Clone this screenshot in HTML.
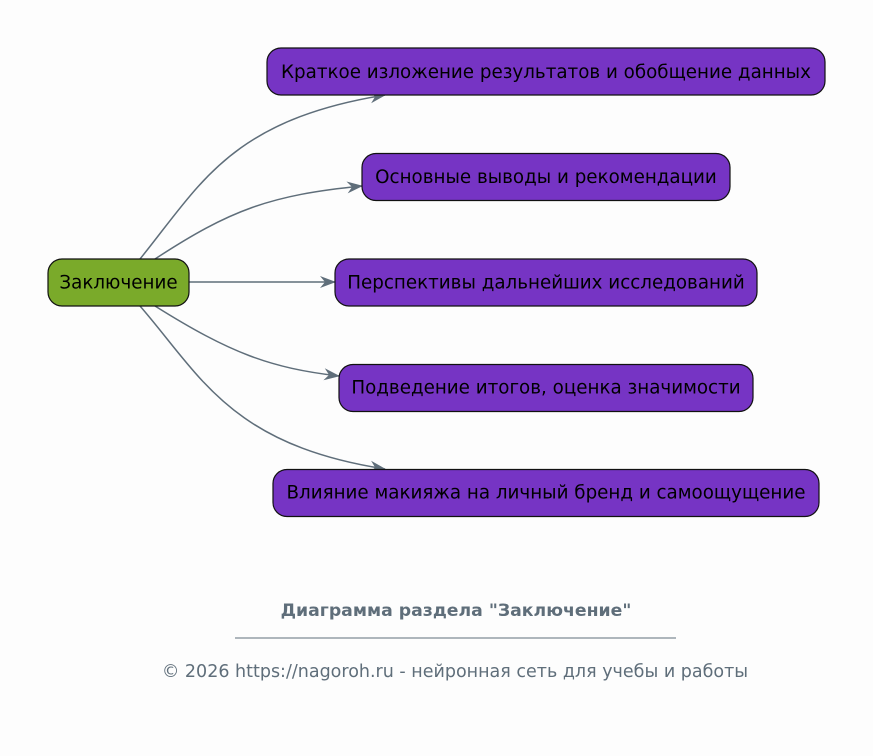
<!DOCTYPE html>
<html><head><meta charset="utf-8"><style>
html,body{margin:0;padding:0;background:#fdfdfd;}
svg{display:block;font-family:"DejaVu Sans","Liberation Sans",sans-serif;}
</style></head><body>
<svg width="873" height="756" viewBox="0 0 873 756" xmlns="http://www.w3.org/2000/svg">
<rect width="873" height="756" fill="#fdfdfd"/>
<defs>
<marker id="a" markerWidth="20" markerHeight="14" refX="17" refY="7" orient="auto" markerUnits="userSpaceOnUse">
<path d="M2,1 L18,7 L2,13 L7,7 Z" fill="#5f6e7a"/>
</marker>
</defs>
<g fill="none" stroke="#5f6e7a" stroke-width="1.5" marker-end="url(#a)">
<path d="M140,259 C200,185 230,120 385,95"/>
<path d="M155,259 C230,210 270,195 362,186"/>
<path d="M189,282 L335,282"/>
<path d="M155,306 C230,353 270,368 339,376"/>
<path d="M140,306 C200,375 230,445 385,469"/>
</g>
<g stroke="#111" stroke-width="1.2">
<rect x="48" y="259" width="141" height="47" rx="14" fill="#7aaa2a"/>
<rect x="267" y="48" width="558" height="47" rx="14" fill="#7634c4"/>
<rect x="362" y="153.5" width="368" height="47" rx="14" fill="#7634c4"/>
<rect x="335" y="259" width="422" height="47" rx="14" fill="#7634c4"/>
<rect x="339" y="364.5" width="414" height="47" rx="14" fill="#7634c4"/>
<rect x="273" y="469.5" width="546" height="47" rx="14" fill="#7634c4"/>
</g>
<g font-size="18.3" fill="#000" text-anchor="middle">
<text x="118.5" y="288.5">Заключение</text>
<text x="546" y="78">Краткое изложение результатов и обобщение данных</text>
<text x="546" y="183">Основные выводы и рекомендации</text>
<text x="546" y="288.5">Перспективы дальнейших исследований</text>
<text x="546" y="393.5">Подведение итогов, оценка значимости</text>
<text x="546" y="498.5">Влияние макияжа на личный бренд и самоощущение</text>
</g>
<text x="456" y="616" font-size="17.3" font-weight="bold" fill="#5f6e7a" text-anchor="middle">Диаграмма раздела "Заключение"</text>
<line x1="235" y1="638" x2="676" y2="638" stroke="#5f6e7a" stroke-width="1"/>
<text x="455" y="677" font-size="17.5" fill="#5f6e7a" text-anchor="middle">© 2026 https://nagoroh.ru - нейронная сеть для учебы и работы</text>
</svg>
</body></html>
